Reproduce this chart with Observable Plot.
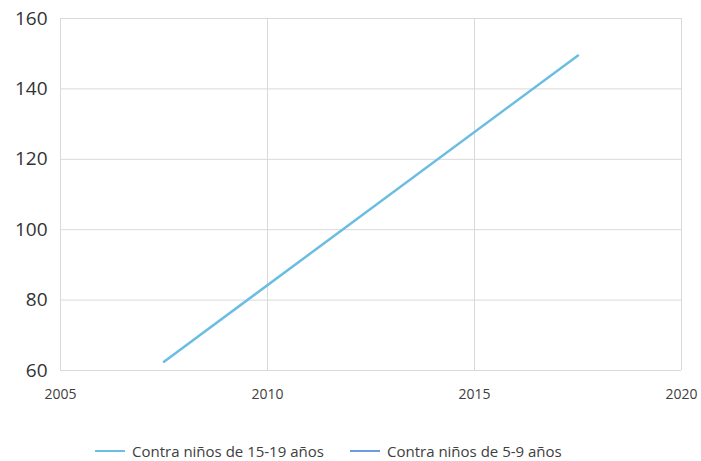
<!DOCTYPE html>
<html>
<head>
<meta charset="utf-8">
<script src="https://cdn.jsdelivr.net/npm/d3@7"></script>
<script src="https://cdn.jsdelivr.net/npm/@observablehq/plot@0.6"></script>
<style>
  body { margin: 0; background: #fff; font-family: "Open Sans", "Noto Sans", sans-serif; }
  #wrap { position: relative; width: 701px; height: 461px; }
  .leg { position: absolute; top: 441px; display: flex; align-items: center; font-size: 15px; color: #404040; white-space: nowrap; }
  .sw { display: inline-block; width: 30px; height: 2.5px; margin-right: 7px; }
  g[aria-label="y-axis tick label"] { font-size: 19px !important; }
  g[aria-label="y-axis tick label"] text { font-size: 19px !important; }
</style>
</head>
<body>
<div id="wrap"></div>
<script>
const series = ["Contra niños de 15-19 años", "Contra niños de 5-9 años"];
const colors = ["#6cbde2", "#6d9be0"];
const years15_19 = [2007.5, 2017.5];
const values15_19 = [62.5, 149.5];
const years5_9 = [];
const values5_9 = [];
const xTicks = [2005, 2010, 2015, 2020];
const yTicks = [60, 80, 100, 120, 140, 160];

const data = [
  ...years15_19.map((x, i) => ({x, y: values15_19[i], s: series[0]})),
  ...years5_9.map((x, i) => ({x, y: values5_9[i], s: series[1]}))
];

const chart = Plot.plot({
  width: 701,
  height: 415,
  marginLeft: 60,
  marginRight: 20,
  marginTop: 18,
  marginBottom: 45,
  style: { fontFamily: "'Open Sans', 'Noto Sans', sans-serif", color: "#404040", background: "#fff" },
  x: { domain: [2005, 2020] },
  y: { domain: [60, 160] },
  color: { domain: series, range: colors },
  marks: [
    Plot.gridX(xTicks, { stroke: "#d9d9d9", strokeOpacity: 1, strokeWidth: 1 }),
    Plot.gridY(yTicks, { stroke: "#d9d9d9", strokeOpacity: 1, strokeWidth: 1 }),
    Plot.axisX(xTicks, { tickSize: 0, tickPadding: 19, tickFormat: d => String(d), fontSize: 14, fill: "#404040", label: null }),
    Plot.axisY(yTicks, { tickSize: 0, tickPadding: 13, fontSize: 19, fill: "#333", label: null }),
    Plot.line(data, { x: "x", y: "y", z: "s", stroke: "s", strokeWidth: 2.5 })
  ]
});
const wrap = document.getElementById("wrap");
wrap.appendChild(chart);

const legX = [95, 350];
series.forEach((s, i) => {
  const d = document.createElement("div");
  d.className = "leg";
  d.style.left = legX[i] + "px";
  d.innerHTML = `<span class="sw" style="background:${colors[i]}"></span><span>${s}</span>`;
  wrap.appendChild(d);
});
</script>
</body>
</html>
